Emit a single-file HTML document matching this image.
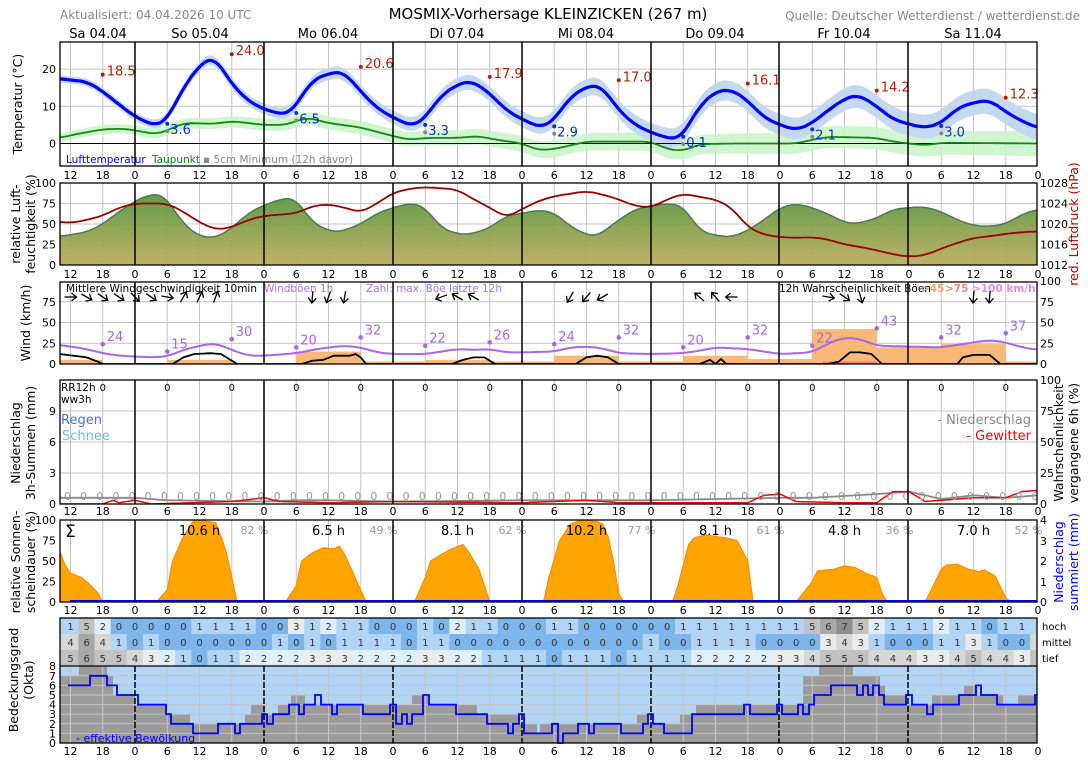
<!DOCTYPE html>
<html><head><meta charset="utf-8"><style>
html,body{margin:0;padding:0;background:#fff;}
svg{display:block;font-family:"DejaVu Sans","Liberation Sans",sans-serif;}
</style></head><body>
<svg id="s" width="1088" height="763" viewBox="0 0 1088 763" xmlns="http://www.w3.org/2000/svg">
<defs>
<linearGradient id="hg" x1="0" y1="0" x2="0" y2="1"><stop offset="0" stop-color="#5b9640"/><stop offset="1" stop-color="#bcae60"/></linearGradient>
<clipPath id="cT"><rect x="60" y="42" width="977" height="124"/></clipPath>
<clipPath id="cH"><rect x="60" y="183" width="977" height="82"/></clipPath>
<clipPath id="cW"><rect x="60" y="282" width="977" height="82"/></clipPath>
<clipPath id="cP"><rect x="60" y="380" width="977" height="124"/></clipPath>
<clipPath id="cS"><rect x="60" y="520" width="977" height="82"/></clipPath>
<clipPath id="cC"><rect x="60" y="618" width="977" height="125"/></clipPath>
</defs>
<g id="g"></g>
<text x="60" y="19" font-size="12" fill="#888">Aktualisiert: 04.04.2026 10 UTC</text>
<text x="548" y="19" font-size="15" text-anchor="middle" fill="#000">MOSMIX-Vorhersage KLEINZICKEN (267 m)</text>
<text x="1080" y="20" font-size="12" text-anchor="end" fill="#888">Quelle: Deutscher Wetterdienst / wetterdienst.de</text>
</svg>
<script>
const NS="http://www.w3.org/2000/svg";const G=document.getElementById('g');
function el(t,a,txt,par){const e=document.createElementNS(NS,t);for(const k in a)e.setAttribute(k,a[k]);if(txt!==undefined)e.textContent=txt;(par||G).appendChild(e);return e;}
const X=h=>135+(h-24)*5.375;
function lin(d,h){if(h<=d[0][0])return d[0][1];for(let i=1;i<d.length;i++){if(h<=d[i][0]){const a=d[i-1],b=d[i];const t=(h-a[0])/(b[0]-a[0]);return a[1]+(b[1]-a[1])*t;}}return d[d.length-1][1];}
function interp(d,h){let s=0,n=0;for(let k=-1.5;k<=1.51;k+=0.5){s+=lin(d,h+k);n++;}return s/n;}
function samp(d,f,off){const p=[];for(let h=10;h<=192.01;h+=0.5)p.push([X(h),f(interp(d,h)+(off||0))]);return p;}
const pstr=p=>p.map((q,i)=>(i?'L':'M')+q[0].toFixed(1)+','+q[1].toFixed(1)).join('');
function band(d,f,w){const up=[],dn=[];for(let h=10;h<=192.01;h+=0.5){const ww=w(h);up.push([X(h),f(interp(d,h)+ww)]);dn.push([X(h),f(interp(d,h)-ww)]);}return pstr(up.concat(dn.reverse()))+'Z';}
function step(segs,f){let s='';segs.forEach((g,i)=>{const y=f(g[2]);s+=(i?'L':'M')+g[0]+','+y+'L'+g[1]+','+y;});return s;}
const days=[135,264,393,522,651,779,908];
function grid(y0,y1,hs,cp,vert){const g=el('g',{'clip-path':cp});
 if(vert!==false)for(let h=12;h<=192;h+=6){const x=X(h);if(h%24)el('line',{x1:x,x2:x,y1:y0,y2:y1,stroke:'#c4c4c4','stroke-width':1},undefined,g);}
 hs.forEach(y=>el('line',{x1:60,x2:1037,y1:y,y2:y,stroke:'#c4c4c4','stroke-width':1},undefined,g));return g;}
function frame(y0,y1){days.forEach(x=>el('line',{x1:x,x2:x,y1:y0,y2:y1,stroke:'#000','stroke-width':1.5}));el('rect',{x:60,y:y0,width:977,height:y1-y0,fill:'none',stroke:'#000','stroke-width':1.3});}
function ticks(y){for(let h=12;h<=192;h+=6){el('text',{x:X(h),y:y,'font-size':11,'text-anchor':'middle'},String(h%24));}}
function ylab(x,ys,vals,anchor,col){vals.forEach((v,i)=>el('text',{x:x,y:ys[i]+4,'font-size':11,'text-anchor':anchor||'end',fill:col||'#000'},v));}
function rlab(x,y,lines,col,fs){const g=el('g',{transform:`translate(${x},${y}) rotate(-90)`});lines.forEach((l,i)=>el('text',{x:0,y:i*15,'font-size':fs||12.5,'text-anchor':'middle',fill:col||'#000'},l,g));}
[['Sa 04.04',98],['So 05.04',200],['Mo 06.04',328],['Di 07.04',457],['Mi 08.04',586],['Do 09.04',715],['Fr 10.04',844],['Sa 11.04',973]].forEach(d=>el('text',{x:d[1],y:38,'font-size':13,'text-anchor':'middle'},d[0]));
// ===== TEMP
const TY=t=>143.5-3.72*t;
const T=[[10,17.5],[12,17],[15,16.7],[18,14],[21,10.5],[24,7.2],[27,5.2],[28,4.8],[30,6.5],[33,15],[36,21],[38,23],[39,22.8],[42,16],[45,11.5],[48,9.2],[51,8],[52,7.8],[53,8.5],[54,10.5],[57,17],[60,18.8],[62,19.3],[63,19],[66,14],[69,9.5],[72,7],[75,5],[76,4.8],[78,7],[81,13],[84,15.8],[86,16.8],[87,16.5],[90,13.5],[93,9],[96,6.5],[99,4.6],[100,4.4],[102,6.5],[105,12.5],[108,15.3],[110,15.6],[111,15],[114,9],[117,5],[120,3],[123,1.5],[125,1.2],[126,2.5],[129,10],[132,14],[135,14.5],[138,11.5],[141,7],[144,5],[147,3.6],[150,5.5],[153,9],[156,12],[158,13],[159,12.8],[162,10],[165,6.5],[168,5.2],[171,4.2],[174,5.5],[177,9.5],[180,11],[183,11.7],[186,8.5],[189,6],[192,4.2]];
const D=[[10,1.5],[13,2.5],[18,3.8],[22,4],[24,3.5],[28,2.5],[30,3.5],[33,5.5],[39,5.3],[42,6],[48,5],[52,5],[56,7],[60,5.5],[66,4.3],[72,2],[75,1],[78,1.5],[84,1.5],[88,2],[90,1.3],[96,0],[99,-1.8],[102,-1.5],[108,0.5],[114,0.5],[120,0.5],[123,-1.5],[126,-2],[129,-0.2],[135,0],[144,0],[147,0],[150,1],[153,1.8],[162,1.5],[165,0.5],[168,0],[171,-0.5],[174,0.2],[192,0]];
grid(42,166,[TY(10),TY(20)],'url(#cT)');
{const g=el('g',{'clip-path':'url(#cT)'});
el('path',{d:band(D,TY,h=>1+h/80),fill:'#c8f5c8',opacity:0.85},undefined,g);
el('path',{d:band(T,TY,h=>0.8+h/70),fill:'#c4d9ef'},undefined,g);
el('line',{x1:60,x2:1037,y1:TY(0),y2:TY(0),stroke:'#000','stroke-width':1},undefined,g);
el('path',{d:pstr(samp(D,TY)),fill:'none',stroke:'#118811','stroke-width':1.8},undefined,g);
el('path',{d:pstr(samp(T,TY)),fill:'none',stroke:'#0000ff','stroke-width':3.2},undefined,g);}
[[18,18.5],[42,24.0],[66,20.6],[90,17.9],[114,17.0],[138,16.1],[162,14.2],[186,12.3]].forEach(p=>{el('circle',{cx:X(p[0]),cy:TY(p[1]),r:2,fill:'#b22000'});el('text',{x:X(p[0])+4,y:TY(p[1])+1,'font-size':13,fill:'#b22000'},p[1].toFixed(1));});
[[30,3.6],[54,6.5],[78,3.3],[102,2.9],[126,0.1],[150,2.1],[174,3.0]].forEach(p=>{const x=X(p[0]);el('circle',{cx:x,cy:TY(p[1]+1.7),r:2,fill:'#0033cc'});el('circle',{cx:x,cy:TY(p[1])+1,r:2,fill:'#888'});el('text',{x:x+3,y:TY(p[1])+4,'font-size':13,fill:'#0033cc'},p[1].toFixed(1));});
el('text',{x:66,y:163,'font-size':10.5,fill:'#0000ff'},'Lufttemperatur');
el('text',{x:152,y:163,'font-size':10.5,fill:'#118811'},'Taupunkt');
el('text',{x:203,y:163,'font-size':10.5,fill:'#888'},'▪ 5cm Minimum (12h davor)');
frame(42,166);ylab(56,[TY(0),TY(10),TY(20)],['0','10','20']);ticks(179);
rlab(22,104,['Temperatur (°C)']);
// ===== HUMIDITY
const HY=v=>265-0.82*v;
const H=[[10,35],[13,38],[15,40],[18,50],[21,65],[24,78],[26,84],[27,86],[29,86],[30,80],[33,50],[36,35],[39,33],[42,45],[45,63],[48,73],[51,80],[53,82],[54,80],[57,52],[60,42],[62,40],[66,50],[69,63],[72,70],[75,75],[76,75],[78,70],[81,45],[84,38],[86,37],[90,45],[93,60],[96,63],[99,67],[102,64],[105,47],[108,37],[110,35],[114,55],[117,68],[120,72],[123,75],[126,72],[129,42],[132,36],[135,34],[138,42],[141,55],[144,70],[147,75],[150,70],[153,62],[156,52],[158,50],[162,57],[165,68],[168,70],[171,71],[174,65],[177,55],[180,48],[183,47],[186,50],[189,62],[192,68]];
const Pp=[[10,53],[12,51],[15,55],[18,60],[21,70],[24,75],[30,75],[33,65],[36,52],[39,43],[42,46],[45,55],[48,60],[54,63],[57,72],[60,74],[63,70],[66,64],[69,75],[72,88],[75,93],[78,95],[84,92],[87,80],[90,70],[93,58],[96,68],[99,78],[102,84],[108,90],[111,86],[114,80],[117,72],[120,70],[123,80],[126,87],[129,83],[132,80],[135,70],[138,46],[141,37],[144,34],[147,33],[150,34],[153,31],[156,25],[159,22],[162,18],[165,13],[168,10],[171,12],[174,20],[177,27],[180,33],[183,35],[186,38],[189,40],[192,41]];
grid(183,265,[HY(25),HY(50),HY(75)],'url(#cH)');
{const g=el('g',{'clip-path':'url(#cH)'});const p=samp(H,HY);
el('path',{d:pstr(p)+`L1037,265L60,265Z`,fill:'url(#hg)',opacity:0.95},undefined,g);
el('path',{d:pstr(p),fill:'none',stroke:'#4a7a55','stroke-width':1.5},undefined,g);
el('path',{d:pstr(samp(Pp,HY)),fill:'none',stroke:'#990000','stroke-width':1.8},undefined,g);}
frame(183,265);ylab(56,[HY(0),HY(25),HY(50),HY(75),HY(100)],['0','25','50','75','100']);ticks(278);
ylab(1040,[HY(0),HY(25),HY(50),HY(75),HY(100)],['1012','1016','1020','1024','1028'],'start');
rlab(20,224,['relative Luft-','feuchtigkeit (%)']);
rlab(1078,224,['red. Luftdruck (hPa)'],'#b00000');
// ===== WIND
const WY=v=>364-0.83*v;
grid(282,364,[WY(25),WY(50),WY(75)],'url(#cW)');
{const g=el('g',{'clip-path':'url(#cW)'});
[[10,18,5],[30,42,5],[54,66,15],[66,78,3],[78,90,5],[90,102,3],[102,114,10],[114,126,3],[126,138,10],[138,150,6],[150,162,42],[162,174,20],[174,186,24],[186,192,3]].forEach(b=>el('rect',{x:X(b[0]),y:WY(b[2]),width:X(b[1])-X(b[0]),height:364-WY(b[2]),fill:'#f8b878'},undefined,g));
el('rect',{x:X(152),y:WY(3),width:X(162)-X(152),height:364-WY(3),fill:'#f08080'},undefined,g);
const GU=[[10,23],[15,18],[18,13],[21,10],[27,8],[30,9],[33,17],[36,22],[39,25],[42,17],[45,10],[48,10],[54,13],[57,17],[60,20],[63,22],[66,20],[69,14],[72,12],[78,12],[81,15],[84,18],[87,17],[90,18],[93,14],[96,14],[102,15],[105,20],[108,21],[111,19],[114,13],[120,12],[126,13],[129,16],[132,20],[135,19],[138,18],[141,15],[144,12],[150,14],[153,25],[156,32],[159,30],[162,22],[168,21],[174,20],[180,26],[183,29],[186,26],[189,20],[192,17]];
el('path',{d:pstr(samp(GU,WY)),fill:'none',stroke:'#a866e8','stroke-width':2},undefined,g);
const MW=[[10,12],[15,8],[17,3],[18,0],[31,0],[33,8],[35,12],[38,13],[40,12],[42,4],[43,0],[55,0],[57,4],[59,5],[61,10],[64,10],[65,12],[66,8],[67,0],[83,0],[85,5],[87,8],[89,8],[91,0],[106,0],[108,8],[110,10],[112,8],[114,0],[129,0],[131,5],[132,0],[133,6],[134,0],[153,0],[155,3],[157,14],[159,14],[161,12],[163,0],[177,0],[178,8],[180,11],[183,11],[185,0],[192,0]];
const mp=[];for(let h=10;h<=192;h+=0.5)mp.push([X(h),WY(lin(MW,h))]);
el('path',{d:pstr(mp),fill:'none',stroke:'#000','stroke-width':1.8},undefined,g);}
[[18,24],[30,15],[42,30],[54,20],[66,32],[78,22],[90,26],[102,24],[114,32],[126,20],[138,32],[150,22],[162,43],[174,32],[186,37]].forEach(p=>{el('circle',{cx:X(p[0]),cy:WY(p[1]),r:2.3,fill:'#a866e8'});el('text',{x:X(p[0])+4,y:WY(p[1])-3,'font-size':13,fill:'#a866e8'},p[1]);});
el('text',{x:66,y:292,'font-size':10.5},'Mittlere Windgeschwindigkeit 10min');
el('text',{x:264,y:292,'font-size':10.5,fill:'#b070e8'},'Windböen 1h');
el('text',{x:366,y:292,'font-size':10.5,fill:'#b070e8'},'Zahl: max. Böe letzte 12h');
el('text',{x:779,y:292,'font-size':10.5},'12h Wahrscheinlichkeit Böen');
el('text',{x:921,y:292,'font-size':10.5,fill:'#e8a868','font-weight':'bold'},'>45');
el('text',{x:945,y:292,'font-size':10.5,fill:'#f08a70','font-weight':'bold'},'>75');
el('text',{x:972,y:292,'font-size':10.5,fill:'#e888e8','font-weight':'bold'},'>100 km/h');
[[12,0],[15,30],[18,35],[21,35],[24,45],[27,35],[30,10],[33,-60],[36,-65],[39,-70],[57,95],[60,110],[63,100],[81,160],[84,-150],[87,-150],[105,120],[108,130],[111,150],[129,-140],[132,-130],[135,180],[153,10],[156,35],[159,75],[180,95],[183,95]].forEach(a=>{const x=X(a[0]),y=297;const g=el('g',{transform:`translate(${x},${y}) rotate(${a[1]})`});el('line',{x1:-6,y1:0,x2:6,y2:0,stroke:'#000','stroke-width':1.3},undefined,g);el('path',{d:'M1,-4L6,0L1,4',fill:'none',stroke:'#000','stroke-width':1.3},undefined,g);});
frame(282,364);ylab(56,[WY(0),WY(25),WY(50),WY(75)],['0','25','50','75']);
ylab(1040,[WY(0),WY(25),WY(50),WY(75),WY(100)],['0','25','50','75','100'],'start');
rlab(30,323,['Wind (km/h)']);
// ===== PRECIP
const PY=v=>504-124*v/12, QY=p=>504-1.24*p;
grid(380,504,[PY(3),PY(6),PY(9)],'url(#cP)');
{const g=el('g',{'clip-path':'url(#cP)'});
const GR=[[10,5],[24,5],[30,3],[48,2],[54,3],[60,3],[72,2],[96,3],[120,3],[132,4],[144,5],[150,5],[162,8],[168,10],[174,4],[180,7],[186,5],[192,7]];
const RD=[[10,0],[18,0],[20,3],[21,1],[24,3],[27,0],[42,2],[48,5],[51,2],[60,1],[72,2],[96,1],[108,3],[114,1],[120,1],[138,1],[141,7],[144,8],[147,2],[156,1],[162,1],[165,10],[168,10],[171,2],[180,5],[186,5],[189,10],[192,11]];
const l=(d,f)=>{const p=[];for(let h=10;h<=192;h+=0.5)p.push([X(h),f(lin(d,h))]);return pstr(p);};
el('path',{d:l(GR,QY),fill:'none',stroke:'#888','stroke-width':1.8},undefined,g);
el('path',{d:l(RD,QY),fill:'none',stroke:'#ff0000','stroke-width':1.5},undefined,g);
for(let h=12;h<=192;h+=3)el('text',{x:X(h)-3,y:500,'font-size':11,fill:'#999','text-anchor':'middle'},'0',g);}
for(let h=18;h<=186;h+=12)el('text',{x:X(h),y:391,'font-size':10,'text-anchor':'middle'},'0');
el('text',{x:61,y:391,'font-size':10.5},'RR12h');el('text',{x:61,y:403,'font-size':10.5},'ww3h');
el('text',{x:61,y:424,'font-size':13,fill:'#4a70d0'},'Regen');el('text',{x:62,y:440,'font-size':13,fill:'#70b8f8'},'Schnee');
el('text',{x:1031,y:424,'font-size':13,fill:'#888','text-anchor':'end'},'- Niederschlag');
el('text',{x:1031,y:440,'font-size':13,fill:'#ff0000','text-anchor':'end'},'- Gewitter');
frame(380,504);ylab(56,[PY(0),PY(3),PY(6),PY(9)],['0','3','6','9']);ticks(515);
ylab(1040,[QY(0),QY(25),QY(50),QY(75),QY(100)],['0','25','50','75','100'],'start');
rlab(20,443,['Niederschlag','3h-Summen (mm)']);
rlab(1063,443,['Wahrscheinlichkeit','vergangene 6h (%)']);
// ===== SUN
const SY=v=>602-0.82*v;
grid(520,602,[],'url(#cS)');
{const g=el('g',{'clip-path':'url(#cS)'});
const S=[[10,62],[11,45],[12,35],[14,30],[15,25],[17,12],[18,0],[28,0],[30,15],[31,50],[33,80],[35,100],[39,97],[40,80],[41,60],[43,0],[52,0],[54,20],[55,50],[57,60],[59,66],[61,65],[62,68],[63,58],[67,0],[76,0],[78,30],[79,50],[81,58],[83,65],[85,70],[86,62],[88,40],[90,0],[100,0],[101,30],[103,75],[105,95],[107,100],[110,98],[111,95],[112,80],[113,50],[114,10],[115,0],[124,0],[125,20],[127,70],[128,78],[130,82],[132,80],[134,78],[136,75],[138,50],[139,0],[147,0],[150,25],[151,38],[154,40],[156,44],[158,42],[160,35],[162,30],[163,10],[164,0],[171,0],[174,40],[175,45],[177,46],[179,40],[181,37],[182,39],[184,32],[186,5],[187,0],[192,0]];
const pts=[];for(let h=10;h<=192;h+=0.5)pts.push([X(h),SY(lin(S,h))]);
el('path',{d:pstr(pts)+'L1037,602L60,602Z',fill:'#ffa500',stroke:'#ff8c00','stroke-width':1.2},undefined,g);
el('line',{x1:70,x2:1037,y1:601,y2:601,stroke:'#0000dd','stroke-width':2},undefined,g);}
el('text',{x:65,y:537,'font-size':17},'Σ');
[['10.6 h','82 %'],['6.5 h','49 %'],['8.1 h','62 %'],['10.2 h','77 %'],['8.1 h','61 %'],['4.8 h','36 %'],['7.0 h','52 %']].forEach((d,i)=>{const x=X(36+24*i);el('text',{x:x,y:535,'font-size':13,'text-anchor':'middle'},d[0]);el('text',{x:x+55,y:534,'font-size':11,fill:'#999','text-anchor':'middle'},d[1]);});
frame(520,602);ylab(56,[SY(0),SY(25),SY(50),SY(75),SY(100)],['0','25','50','75','100']);ticks(614);
ylab(1040,[602,582,561,541,520],['0','1','2','3','4'],'start');
rlab(20,562,['relative Sonnen-','scheindauer (%)']);
rlab(1063,562,['Niederschlag','summiert (mm)'],'#0000ff');
// ===== CLOUD TABLE
const cc=['#7db6ec','#b2d5f6','#dff0fa','#ebebeb','#d7d7d7','#c2c2c2','#a8a8a8','#8e8e8e','#777'];
const rows=[[1,5,2,0,0,0,0,0,1,1,1,1,0,0,3,1,2,1,1,0,0,0,1,0,2,1,1,0,0,0,1,1,0,0,0,0,0,0,1,1,1,1,1,1,1,1,5,6,7,5,2,1,1,1,2,1,1,0,1,1],
[4,6,4,1,0,1,0,0,0,0,0,0,0,1,0,1,0,1,1,1,1,0,1,1,0,0,0,0,0,0,0,0,0,0,0,0,1,0,0,1,1,1,1,0,0,0,0,3,4,3,1,0,0,0,1,1,3,1,0,0],
[5,6,5,5,4,3,2,1,0,1,1,2,2,2,2,3,3,3,2,2,2,2,3,3,2,2,1,1,1,1,0,1,1,1,0,1,1,1,1,2,2,2,2,2,3,3,4,5,5,5,4,4,4,3,3,4,5,4,4,3]];
const ry=[618,634,650];
rows.forEach((r,ri)=>{const y=ry[ri];el('rect',{x:60,y:y,width:977,height:16,fill:cc[r[0]]});r.forEach((v,i)=>{const x=X(12+3*i);el('rect',{x:x-8.2,y:y,width:Math.min(16.4,1037-(x-8.2)),height:16,fill:cc[v]});el('text',{x:x,y:y+12,'font-size':10,'text-anchor':'middle',fill:'#333'},v);});});
el('text',{x:1042,y:630,'font-size':10},'hoch');el('text',{x:1042,y:646,'font-size':10},'mittel');el('text',{x:1042,y:662,'font-size':10},'tief');
// ===== OCTA
const OY=o=>743-9.6*o;
el('rect',{x:60,y:666,width:977,height:77,fill:'#b2d5f6'});
const gray=[[60,79,7],[79,107,8],[107,113,7],[113,135,5],[135,166,4],[166,190,3],[190,245,2],[245,251,3],[251,265,4],[265,278,3],[278,291,4],[291,305,5],[305,333,4],[333,380,4],[380,412,4],[412,428,5],[428,477,4],[477,520,3],[520,537,2],[537,540,1],[540,637,2],[637,647,3],[647,680,2],[680,696,3],[696,803,4],[803,819,7],[819,853,8],[853,880,7],[880,885,6],[885,906,5],[906,932,4],[932,964,5],[964,977,6],[977,1003,5],[1003,1018,4],[1018,1037,5]];
{let d='M60,743';gray.forEach(s=>{d+=`L${s[0]},${OY(s[2])}L${s[1]},${OY(s[2])}`;});d+='L1037,743Z';el('path',{d:d,fill:'#9b9b9b'});}
grid(666,743,[1,2,3,4,5,6,7].map(OY),'url(#cC)');
const eff=[[68,90,6],[90,107,7],[107,117,6],[117,138,5],[138,166,4],[166,171,3],[171,193,2],[193,218,1],[218,235,2],[235,240,1],[240,262,2],[262,267,3],[267,273,2],[273,289,3],[289,299,4],[299,304,3],[304,315,4],[315,321,5],[321,332,4],[332,337,3],[337,363,4],[363,390,3],[390,396,4],[396,402,2],[402,407,3],[407,412,2],[412,423,3],[423,429,5],[429,456,4],[456,487,3],[487,508,2],[508,513,1],[513,519,2],[519,524,3],[524,552,1],[552,558,2],[558,563,0],[563,578,1],[578,589,2],[589,594,1],[594,621,2],[621,643,1],[643,648,2],[648,653,3],[653,664,2],[664,692,1],[692,744,3],[744,750,4],[750,777,3],[777,782,4],[782,798,3],[798,803,4],[803,809,3],[809,814,4],[814,831,5],[831,857,6],[857,863,5],[863,868,6],[868,873,5],[873,879,6],[879,884,5],[884,906,4],[906,912,5],[912,927,4],[927,933,3],[933,959,4],[959,976,5],[976,981,6],[981,997,5],[997,1035,4],[1035,1037,5]];
el('path',{d:step(eff,OY),fill:'none',stroke:'#0000ff','stroke-width':1.8});
el('text',{x:76,y:742,'font-size':11,fill:'#0000ff'},'- effektive Bewölkung');
days.forEach(x=>el('line',{x1:x,x2:x,y1:666,y2:743,stroke:'#000','stroke-width':1.5,'stroke-dasharray':'6,2'}));
el('rect',{x:60,y:618,width:977,height:125,fill:'none',stroke:'#000','stroke-width':1.3});
el('line',{x1:60,x2:1037,y1:666,y2:666,stroke:'#000','stroke-width':1.3});
ylab(56,[0,1,2,3,4,5,6,7,8].map(OY),['0','1','2','3','4','5','6','7','8']);ticks(755);
rlab(18,680,['Bedeckungsgrad','(Okta)']);
</script>
</body></html>
